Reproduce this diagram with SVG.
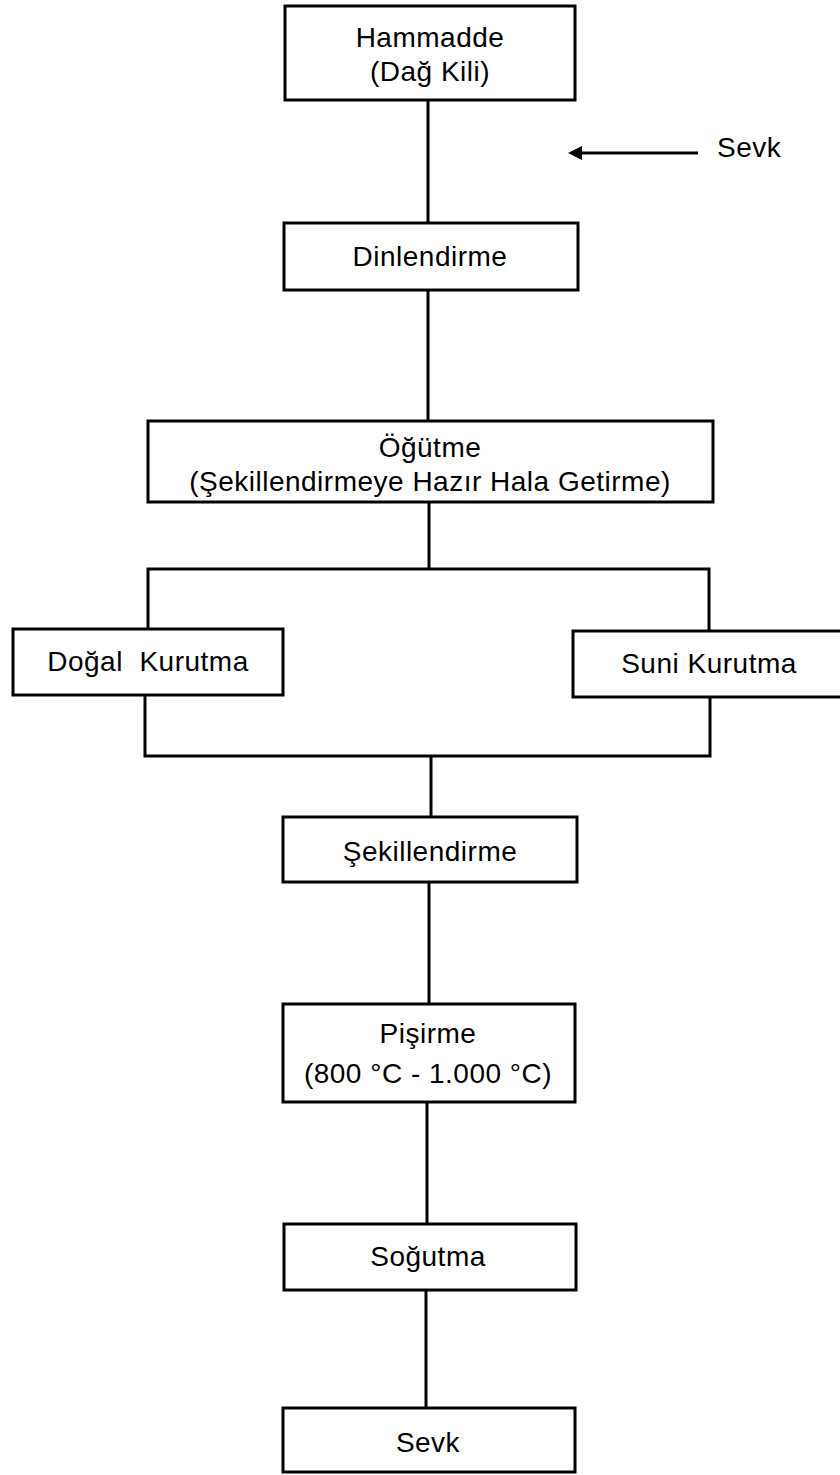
<svg xmlns="http://www.w3.org/2000/svg" width="840" height="1475" viewBox="0 0 840 1475">
<style>
.box{fill:#fff;stroke:#000;stroke-width:3}
.ln{fill:none;stroke:#000;stroke-width:3}
.t{font-family:"Liberation Sans",Arial,sans-serif;font-size:28px;letter-spacing:0.5px;fill:#000;text-anchor:middle}
</style>
<rect width="840" height="1475" fill="#fff"/>
<g id="connectors">
<line class="ln" x1="428" y1="100" x2="428" y2="223"/>
<line class="ln" x1="698" y1="153" x2="578" y2="153" stroke-width="2.5"/>
<path d="M568,153 L582,146 L582,160 z" fill="#000"/>
<line class="ln" x1="428" y1="290" x2="428" y2="421"/>
<line class="ln" x1="429" y1="502" x2="429" y2="569"/>
<polyline class="ln" points="148,629 148,569 709,569 709,631"/>
<polyline class="ln" points="145,695 145,756 710,756 710,697"/>
<line class="ln" x1="431" y1="756" x2="431" y2="817"/>
<line class="ln" x1="429" y1="882" x2="429" y2="1004"/>
<line class="ln" x1="427" y1="1102" x2="427" y2="1224"/>
<line class="ln" x1="426" y1="1290" x2="426" y2="1408"/>
</g>
<g id="sevk-label"><text class="t" x="717" y="157" style="text-anchor:start">Sevk</text></g>
<g id="hammadde">
<rect class="box" x="285" y="6" width="290" height="94"/>
<text class="t" x="430" y="47">Hammadde</text>
<text class="t" x="430" y="81">(Dağ Kili)</text>
</g>
<g id="dinlendirme">
<rect class="box" x="284" y="223" width="294" height="67"/>
<text class="t" x="430" y="266">Dinlendirme</text>
</g>
<g id="ogutme">
<rect class="box" x="148" y="421" width="565" height="81"/>
<text class="t" x="430" y="457">Öğütme</text>
<text class="t" x="430" y="491">(Şekillendirmeye Hazır Hala Getirme)</text>
</g>
<g id="dogal">
<rect class="box" x="13" y="629" width="270" height="66"/>
<text class="t" x="148" y="671" xml:space="preserve">Doğal  Kurutma</text>
</g>
<g id="suni">
<rect class="box" x="573" y="631" width="273" height="66"/>
<text class="t" x="709" y="673">Suni Kurutma</text>
</g>
<g id="sekillendirme">
<rect class="box" x="283" y="817" width="294" height="65"/>
<text class="t" x="430" y="861">Şekillendirme</text>
</g>
<g id="pisirme">
<rect class="box" x="283" y="1004" width="292" height="98"/>
<text class="t" x="428" y="1043">Pişirme</text>
<text class="t" x="428" y="1083">(800 °C - 1.000 °C)</text>
</g>
<g id="sogutma">
<rect class="box" x="284" y="1224" width="292" height="66"/>
<text class="t" x="428" y="1266">Soğutma</text>
</g>
<g id="sevk">
<rect class="box" x="283" y="1408" width="292" height="64"/>
<text class="t" x="428" y="1452">Sevk</text>
</g>
</svg>
